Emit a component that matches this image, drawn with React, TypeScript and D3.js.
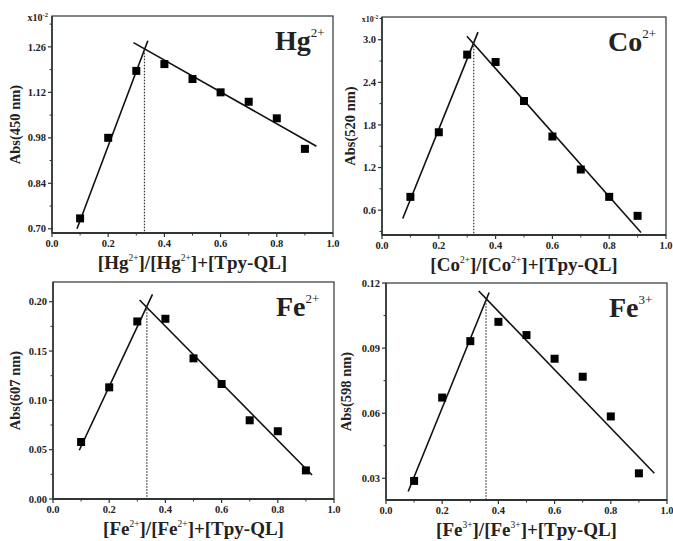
import React from "react";
import { scaleLinear, range } from "d3";

// x positions shared by all four Job's plots
const molarFractions = [0.1, 0.2, 0.3, 0.4, 0.5, 0.6, 0.7, 0.8, 0.9];

// absorbance values
const hgAbs = [0.732, 0.98, 1.186, 1.207, 1.161, 1.12, 1.091, 1.04, 0.946];
const coAbs = [0.787, 1.697, 2.79, 2.686, 2.137, 1.637, 1.172, 0.787, 0.52];
const fe2Abs = [0.0578, 0.1132, 0.18, 0.1827, 0.1426, 0.1166, 0.0798, 0.0687, 0.029];
const fe3Abs = [0.0288, 0.0672, 0.0932, 0.1021, 0.096, 0.0851, 0.0768, 0.0585, 0.0323];

// fitted lines [x, y] endpoints and the dotted break point
const hgRise = [[0.089, 0.70], [0.341, 1.279]];
const hgFall = [[0.29, 1.273], [0.941, 0.954]];
const coRise = [[0.073, 0.483], [0.338, 3.107]];
const coFall = [[0.299, 3.05], [0.912, 0.286]];
const fe2Rise = [[0.0935, 0.0494], [0.354, 0.2075]];
const fe2Fall = [[0.308, 0.2017], [0.922, 0.0243]];
const fe3Rise = [[0.079, 0.0239], [0.367, 0.1156]];
const fe3Fall = [[0.33, 0.1163], [0.955, 0.0323]];
const breakX = { hg: 0.329, co: 0.323, fe2: 0.334, fe3: 0.356 };

// y tick labels
const hgTicks = [0.70, 0.84, 0.98, 1.12, 1.26];
const coTicks = [0.6, 1.2, 1.8, 2.4, 3.0];
const fe2Ticks = [0.0, 0.05, 0.10, 0.15, 0.20];
const fe3Ticks = [0.03, 0.06, 0.09, 0.12];
const xTicks = [0, 0.2, 0.4, 0.6, 0.8, 1.0];

const SERIF = "'Liberation Serif', 'Times New Roman', serif";
const AXIS = "#2e3535";

function Panel({ box, yDomain, yTicks, yDigits, values, rise, fall, bx, ion, charge, wave, sci, yLabelX }) {
  const x = scaleLinear().domain([0, 1]).range([box.x0, box.x1]);
  const y = scaleLinear().domain(yDomain).range([box.y1, box.y0]);
  const step = yTicks[1] - yTicks[0];
  const minorY = range(yTicks[0] - step / 2, yDomain[1], step).filter(v => v > yDomain[0] && v < yDomain[1]);
  const minorX = range(0.1, 1, 0.2);
  const slope = (rise[1][1] - rise[0][1]) / (rise[1][0] - rise[0][0]);
  const breakY = rise[0][1] + slope * (bx - rise[0][0]);
  const cx = (box.x0 + box.x1) / 2;
  const cy = (box.y0 + box.y1) / 2;

  return (
    <g fontFamily={SERIF} fontWeight="bold">
      {/* frame */}
      <rect x={box.x0} y={box.y0} width={box.x1 - box.x0} height={box.y1 - box.y0} fill="none" stroke={AXIS} strokeWidth={1.2} />
      <line x1={box.x0} x2={box.x1} y1={box.y1} y2={box.y1} stroke={AXIS} strokeWidth={2} />
      <line x1={box.x0} x2={box.x0} y1={box.y0} y2={box.y1} stroke={AXIS} strokeWidth={1.6} />

      {/* y ticks */}
      {yTicks.map(t => (
        <g key={"y" + t}>
          <line x1={box.x0 - 4} x2={box.x0} y1={y(t)} y2={y(t)} stroke={AXIS} strokeWidth={1.2} />
          <text x={box.x0 - 6} y={y(t)} dy="0.35em" textAnchor="end" fontSize={10.5} fill="#222">{t.toFixed(yDigits)}</text>
        </g>
      ))}
      {minorY.map(t => (
        <line key={"my" + t} x1={box.x0 - 2.5} x2={box.x0} y1={y(t)} y2={y(t)} stroke={AXIS} strokeWidth={1} />
      ))}

      {/* x ticks */}
      {xTicks.map(t => (
        <g key={"x" + t}>
          <line x1={x(t)} x2={x(t)} y1={box.y1} y2={box.y1 + 4} stroke={AXIS} strokeWidth={1.2} />
          <text x={x(t)} y={box.y1 + 14} textAnchor="middle" fontSize={10.5} fill="#222">{t.toFixed(1)}</text>
        </g>
      ))}
      {minorX.map(t => (
        <line key={"mx" + t} x1={x(t)} x2={x(t)} y1={box.y1} y2={box.y1 + 2.5} stroke={AXIS} strokeWidth={1} />
      ))}

      {sci && (
        <text x={box.x0 - 4} y={box.y0 + 5} textAnchor="end" fontSize={sci} fill="#222">
          x10<tspan dy={-sci * 0.4} fontSize={sci * 0.65}>-2</tspan>
        </text>
      )}

      {/* fit lines */}
      <line x1={x(rise[0][0])} y1={y(rise[0][1])} x2={x(rise[1][0])} y2={y(rise[1][1])} stroke="#111" strokeWidth={1.6} />
      <line x1={x(fall[0][0])} y1={y(fall[0][1])} x2={x(fall[1][0])} y2={y(fall[1][1])} stroke="#111" strokeWidth={1.6} />
      <line x1={x(bx)} x2={x(bx)} y1={y(breakY)} y2={box.y1} stroke="#333" strokeWidth={1.2} strokeDasharray="1.5,1.5" />

      {/* points */}
      {values.map((v, i) => (
        <rect key={i} x={x(molarFractions[i]) - 4} y={y(v) - 4} width={8} height={8} fill="#000" />
      ))}

      {/* ion label */}
      <text x={box.x1 - 58} y={box.y0 + 34} fontSize={28} fill="#222">
        {ion}<tspan dy={-13} fontSize={13} fontWeight="normal">{charge}</tspan>
      </text>

      {/* axis titles */}
      <text x={cx} y={box.y1 + 36} textAnchor="middle" fontSize={19} fill="#222">
        [{ion}<tspan dy={-8} fontSize={9.5} fontWeight="normal">{charge}</tspan>
        <tspan dy={8}>]/[{ion}</tspan>
        <tspan dy={-8} fontSize={9.5} fontWeight="normal">{charge}</tspan>
        <tspan dy={8}>]+[Tpy-QL]</tspan>
      </text>
      <text transform={`translate(${yLabelX},${cy}) rotate(-90)`} textAnchor="middle" dy="0.35em" fontSize={14.5} fill="#222">
        Abs({wave} nm)
      </text>
    </g>
  );
}

export default function App() {
  return (
    <svg width={673} height={541} style={{ position: "absolute", left: 0, top: 0, background: "#fff" }}>
      <rect width={673} height={541} fill="#fff" />
      <Panel box={{ x0: 52, x1: 333, y0: 16, y1: 233 }} yDomain={[0.687, 1.355]} yTicks={hgTicks} yDigits={2}
        values={hgAbs} rise={hgRise} fall={hgFall} bx={breakX.hg} ion="Hg" charge="2+" wave={450} sci={10} yLabelX={15} />
      <Panel box={{ x0: 382, x1: 666, y0: 17, y1: 235 }} yDomain={[0.25, 3.32]} yTicks={coTicks} yDigits={1}
        values={coAbs} rise={coRise} fall={coFall} bx={breakX.co} ion="Co" charge="2+" wave={520} sci={8} yLabelX={350} />
      <Panel box={{ x0: 53, x1: 334, y0: 282, y1: 499 }} yDomain={[0, 0.22]} yTicks={fe2Ticks} yDigits={2}
        values={fe2Abs} rise={fe2Rise} fall={fe2Fall} bx={breakX.fe2} ion="Fe" charge="2+" wave={607} sci={0} yLabelX={15} />
      <Panel box={{ x0: 386, x1: 667, y0: 283, y1: 500 }} yDomain={[0.02, 0.12]} yTicks={fe3Ticks} yDigits={2}
        values={fe3Abs} rise={fe3Rise} fall={fe3Fall} bx={breakX.fe3} ion="Fe" charge="3+" wave={598} sci={0} yLabelX={346} />
    </svg>
  );
}
